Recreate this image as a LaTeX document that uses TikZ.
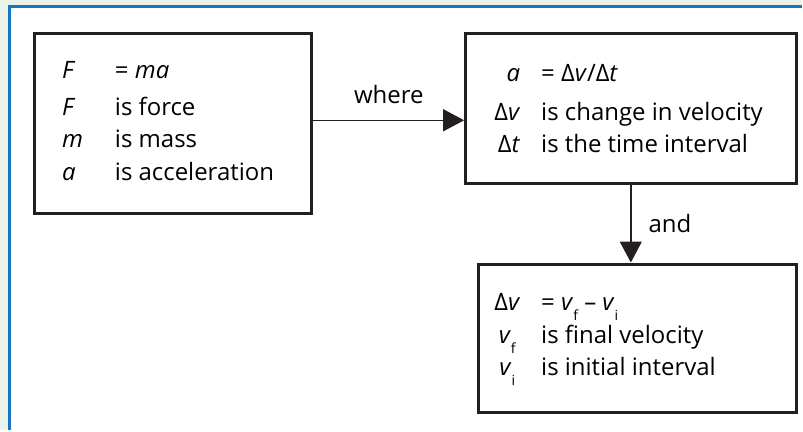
\documentclass[tikz,border=0pt]{standalone}
\usepackage{fontspec}
\setmainfont{Open Sans}
\usepackage{array}
\usetikzlibrary{arrows.meta}
\definecolor{pagegreen}{HTML}{EAF3E9}
\definecolor{frameblue}{HTML}{1577C2}
\definecolor{inkblack}{HTML}{231F20}
\newcommand{\lowidx}[1]{\raisebox{-0.8ex}{\fontsize{14}{14}\selectfont #1}}
\newcommand{\sym}[1]{\textit{#1}}

\begin{document}
\begin{tikzpicture}
[x=1pt,y=-1pt,%
  box/.style={draw=inkblack,line width=3pt,inner sep=0pt,anchor=north west},%
  txt/.style={anchor=base west,inner sep=0pt,font=\fontsize{24}{32}\selectfont},%
  link/.style={draw=inkblack,line width=1.4pt,-{Triangle[length=21pt,width=22pt]}},%
  tag/.style={inner sep=0pt,font=\fontsize{24}{32}\selectfont}]
% page and frame
\fill[pagegreen] (0,0) rectangle (803,431);
\fill[white] (9.5,6.5) rectangle (803,431);
\draw[frameblue,line width=3pt] (9.5,431) -- (9.5,6.5) -- (803,6.5);
% boxes
\node[box,minimum width=278pt,minimum height=180pt] (force) at (33,32) {};
\node[box,minimum width=331pt,minimum height=150pt] (accel) at (465,32) {};
\node[box,minimum width=318pt,minimum height=149pt] (velo) at (478,263) {};
% texts
\node[txt] (forcetext) at (62,79) {%
  \begin{tabular}[t]{@{}p{53pt}@{}l@{}}
    \sym{F} & = \sym{ma}\\[5pt]
    \sym{F} & is force\\
    \sym{m} & is mass\\[1pt]
    \sym{a} & is acceleration
  \end{tabular}};
\node[txt] (acceltext) at (493,82) {%
  \begin{tabular}[t]{@{}>{\raggedleft\arraybackslash}p{28pt}@{\hspace{21pt}}l@{}}
    \sym{a} & = Δ\sym{v}/Δ\sym{t}\\[7pt]
    Δ\sym{v} & is change in velocity\\
    Δ\sym{t} & is the time interval
  \end{tabular}};
\node[txt] (velotext) at (493,311) {%
  \begin{tabular}[t]{@{}>{\centering\arraybackslash}p{30pt}@{\hspace{19pt}}l@{}}
    Δ\sym{v} & = \sym{v}\lowidx{f} – \sym{v}\lowidx{i}\\
    \sym{v}\lowidx{f} & is final velocity\\
    \sym{v}\lowidx{i} & is initial interval
  \end{tabular}};
% connectors
\draw[link] ([yshift=3pt]force.east) -- ([yshift=3pt]force.east -| accel.west)
  node[tag,midway,above=16pt] (where) {where};
\draw[link] (accel.south) -- (accel.south |- velo.north)
  node[tag,midway,right=17pt] (and) {and};
\end{tikzpicture}
\end{document}
